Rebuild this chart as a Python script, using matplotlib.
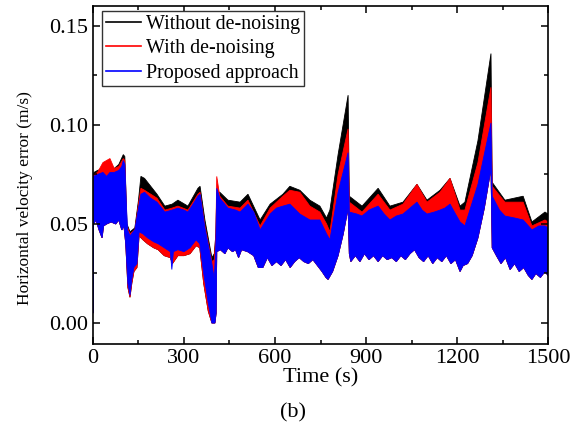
import matplotlib
matplotlib.use('Agg')
import matplotlib.pyplot as plt
from matplotlib.lines import Line2D
from matplotlib.ticker import MultipleLocator, FormatStrFormatter
import numpy as np

# envelopes (time in s, error in m/s)
# upper edges of the black / red bands
t_top = [0, 3, 15, 33, 56, 70, 85, 100, 105, 112, 122, 138, 150, 158, 170, 211, 237, 261, 280, 313,
         346, 353, 369, 392, 400, 405, 408, 418, 445, 485, 511, 551, 584, 626, 649, 682, 715, 748,
         770, 781, 808, 841, 845, 887, 940, 979, 1022, 1068, 1101, 1144, 1177, 1210, 1226, 1269,
         1312, 1316, 1358, 1418, 1447, 1490, 1500]
black_hi = [.070, .076, .077, .078, .079, .078, .080, .085, .084, .050, .046, .048, .062, .074, .073,
            .065, .059, .060, .062, .059, .068, .069, .052, .033, .035, .045, .066, .066, .062, .061,
            .065, .052, .060, .065, .069, .067, .062, .059, .053, .057, .085, .115, .064, .059, .068,
            .059, .061, .070, .062, .067, .073, .059, .061, .092, .136, .071, .062, .064, .051, .056, .055]
red_hi = [.068, .075, .076, .081, .083, .078, .079, .083, .082, .049, .045, .047, .060, .068, .067,
          .063, .057, .058, .059, .057, .065, .066, .049, .031, .032, .045, .074, .064, .059, .058,
          .062, .049, .058, .064, .067, .066, .059, .056, .050, .046, .075, .098, .061, .056, .065,
          .057, .060, .070, .061, .066, .073, .057, .057, .081, .119, .069, .061, .061, .049, .052, .051]

# where the red band shows below the blue one
t_red_lo = [108, 115, 122, 128, 135, 145, 152, 165, 180, 200, 215, 235, 255, 262, 280, 300, 320,
            340, 352, 365, 380, 392]
red_lo = [.040, .018, .013, .020, .026, .028, .044, .042, .040, .038, .037, .034, .033, .030, .034,
          .034, .035, .039, .038, .020, .006, .000]

# proposed approach, upper edge
t_blue_hi = [0, 2, 15, 33, 45, 56, 70, 85, 95, 100, 105, 110, 114, 122, 138, 150, 158, 170, 190, 211,
             237, 261, 280, 300, 313, 330, 346, 353, 369, 392, 400, 405, 408, 418, 445, 470, 485, 511,
             530, 551, 584, 605, 626, 649, 682, 715, 748, 770, 781, 808, 841, 845, 870, 887, 910, 940,
             960, 979, 1000, 1022, 1045, 1068, 1085, 1101, 1125, 1144, 1160, 1177, 1195, 1210, 1226,
             1269, 1312, 1316, 1340, 1358, 1390, 1418, 1447, 1470, 1490, 1500]
blue_hi = [.066, .074, .075, .076, .074, .076, .076, .077, .079, .082, .080, .060, .047, .044, .047,
           .058, .065, .066, .063, .061, .056, .057, .058, .057, .056, .060, .064, .065, .048, .030,
           .022, .040, .068, .063, .058, .057, .056, .060, .056, .047, .055, .058, .059, .060, .055,
           .052, .052, .045, .042, .066, .086, .056, .055, .054, .057, .059, .055, .052, .054, .055,
           .058, .061, .057, .055, .056, .057, .058, .060, .055, .051, .049, .070, .101, .064, .057,
           .054, .053, .052, .047, .049, .049, .048]

# proposed approach, lower edge
t_blue_lo = [0, 2, 10, 20, 30, 35, 45, 60, 75, 85, 95, 102, 108, 115, 122, 128, 135, 145, 152, 165,
             180, 200, 215, 235, 255, 260, 265, 280, 300, 320, 340, 352, 365, 380, 392, 402, 406, 408,
             420, 435, 445, 460, 470, 480, 490, 510, 530, 545, 560, 575, 590, 605, 620, 635, 650, 665,
             680, 695, 710, 725, 740, 755, 768, 775, 790, 808, 825, 841, 845, 850, 865, 880, 895, 910,
             925, 940, 955, 970, 985, 1000, 1015, 1030, 1045, 1060, 1075, 1090, 1105, 1120, 1135, 1150,
             1165, 1180, 1195, 1210, 1220, 1235, 1250, 1269, 1290, 1312, 1316, 1330, 1345, 1360, 1375,
             1390, 1405, 1420, 1435, 1447, 1460, 1475, 1490, 1500]
blue_lo = [.005, .050, .052, .047, .043, .049, .050, .051, .050, .052, .047, .049, .040, .020, .014,
           .022, .028, .030, .046, .045, .043, .041, .040, .038, .036, .027, .036, .037, .036, .038,
           .042, .040, .025, .010, .000, .000, .005, .036, .037, .035, .038, .036, .037, .033, .037,
           .036, .034, .028, .028, .033, .029, .031, .029, .032, .028, .031, .033, .031, .030, .032,
           .029, .026, .023, .022, .026, .034, .045, .058, .035, .031, .034, .031, .035, .032, .034,
           .031, .034, .032, .033, .031, .034, .032, .035, .037, .033, .031, .034, .030, .033, .031,
           .034, .030, .032, .026, .029, .030, .034, .043, .058, .078, .038, .034, .030, .033, .027,
           .030, .026, .028, .024, .022, .025, .023, .026, .024]

# red lower edge: blue lower edge, with the red dip segment in between
before = [i for i, tt in enumerate(t_blue_lo) if tt < t_red_lo[0]]
after = [i for i, tt in enumerate(t_blue_lo) if tt > t_red_lo[-1]]
t_red_edge = [t_blue_lo[i] for i in before] + t_red_lo + [t_blue_lo[i] for i in after]
red_edge = [blue_lo[i] for i in before] + red_lo + [blue_lo[i] for i in after]

plt.rcParams['font.family'] = ['Liberation Serif', 'DejaVu Serif']
fig = plt.figure(figsize=(5.87, 4.33), dpi=100)
ax = fig.add_axes([0.1584, 0.2055, 0.7752, 0.7806])

# each band is a closed polygon: upper edge forward, lower edge back
ax.fill(t_top + t_red_edge[::-1], black_hi + red_edge[::-1], color='black', lw=0.6)
ax.fill(t_top + t_red_edge[::-1], red_hi + red_edge[::-1], color='red', lw=0.6)
ax.fill(t_blue_hi + t_blue_lo[::-1], blue_hi + blue_lo[::-1], color='blue', lw=0.6)

ax.set_xlim(0, 1500)
ax.set_ylim(-0.0106, 0.160)
ax.xaxis.set_major_locator(MultipleLocator(300))
ax.xaxis.set_minor_locator(MultipleLocator(150))
ax.yaxis.set_major_locator(MultipleLocator(0.05))
ax.yaxis.set_minor_locator(MultipleLocator(0.025))
ax.yaxis.set_major_formatter(FormatStrFormatter('%.2f'))
ax.tick_params(which='both', direction='in', top=True, right=True, labelsize=16, width=1.1)
ax.tick_params(which='major', length=5)
ax.tick_params(which='minor', length=3)
for s in ax.spines.values():
    s.set_linewidth(1.2)

ax.set_xlabel('Time (s)', fontsize=16, labelpad=0)
fig.text(25 / 587, 1 - 198 / 433, 'Horizontal velocity error (m/s)', rotation=90,
         ha='center', va='center', fontsize=12.5)
fig.text(293 / 587, 1 - 413 / 433, '(b)', ha='center', va='center', fontsize=16)

handles = [Line2D([], [], color='black', lw=1.2),
           Line2D([], [], color='red', lw=1.2),
           Line2D([], [], color='blue', lw=1.2)]
leg = ax.legend(handles, ['Without de-noising', 'With de-noising', 'Proposed approach'],
                loc='upper left', bbox_to_anchor=(0.02, 0.985), fontsize=14.4, fancybox=False,
                framealpha=1, edgecolor='#333333', handlelength=1.75, handletextpad=0.27,
                borderpad=0.18, labelspacing=0.28, borderaxespad=0)
leg.get_frame().set_linewidth(1.0)

plt.savefig('out.png', dpi=100)
